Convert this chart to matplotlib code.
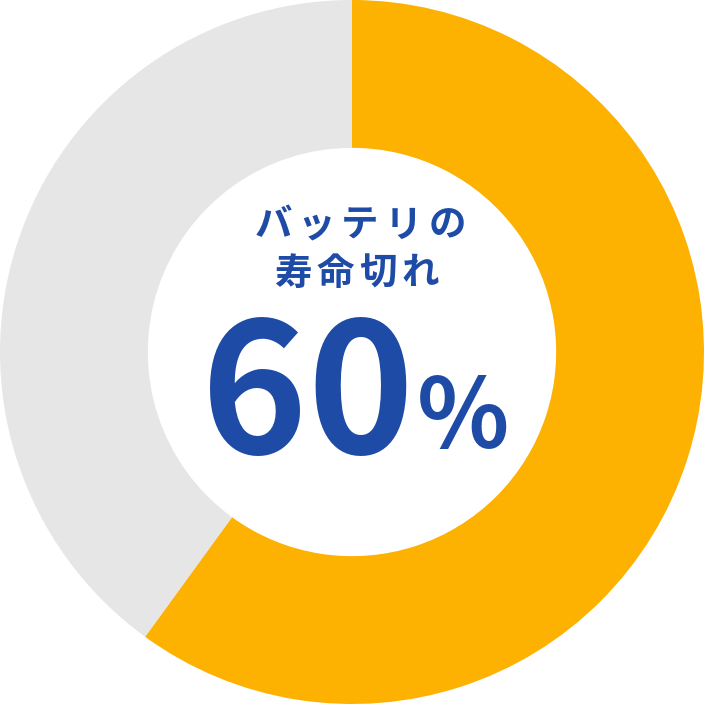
import matplotlib.pyplot as plt

# Dados do gráfico
labels = ["バッテリの寿命切れ", "その他"]
values = [60, 40]
colors = ["#FDB100", "#E6E6E6"]
line1 = "バッテリの"
line2 = "寿命切れ"
pct_num = "60"
pct_sign = "%"

blue = "#1E4BA6"
jp = ["Noto Sans CJK JP", "DejaVu Sans"]

fig = plt.figure(figsize=(7.04, 7.04), dpi=100)
ax = fig.add_axes([0, 0, 1, 1])

ax.pie(values, colors=colors, startangle=90, counterclock=False, radius=1,
       wedgeprops=dict(width=0.42, edgecolor="none"))

# Texto central, letra por letra para o espaçamento
px = 1 / 352
for i, ch in enumerate(line1):
    ax.text((273 + i * 43.5 - 352) * px, (352 - 225) * px, ch, ha="center", va="center",
            fontsize=27, fontweight="bold", color=blue, family=jp)
for i, ch in enumerate(line2):
    ax.text((293 + i * 42.3 - 352) * px, (352 - 273) * px, ch, ha="center", va="center",
            fontsize=27, fontweight="bold", color=blue, family=jp)

ax.text((414 - 352) * px, (352 - 453) * px, pct_num, ha="right", va="baseline",
        fontsize=130, fontweight="bold", color=blue, family=jp)
ax.text((417 - 352) * px, (352 - 448) * px, pct_sign, ha="left", va="baseline",
        fontsize=69, fontweight="bold", color=blue, family=jp)

ax.set_xlim(-1, 1)
ax.set_ylim(-1, 1)
ax.set_aspect("equal")
ax.axis("off")

fig.savefig("out.png", dpi=100)
